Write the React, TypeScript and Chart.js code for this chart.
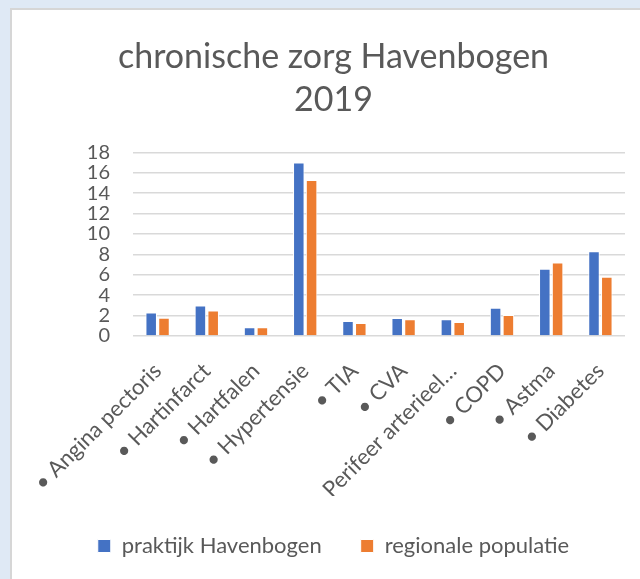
import React, { useEffect, useRef } from "react";
import { Chart, registerables } from "chart.js";

Chart.register(...registerables);

const categories = [
  "• Angina pectoris",
  "• Hartinfarct",
  "• Hartfalen",
  "• Hypertensie",
  "• TIA",
  "• CVA",
  "• Perifeer arterieel…",
  "• COPD",
  "• Astma",
  "• Diabetes",
];
const praktijk = [2.3, 3.0, 0.85, 17.0, 1.47, 1.77, 1.65, 2.78, 6.6, 8.3];
const regionaal = [1.8, 2.5, 0.85, 15.3, 1.28, 1.65, 1.38, 2.06, 7.2, 5.8];
const seriesNames = ["praktijk Havenbogen", "regionale populatie"];
const titleLines = ["chronische zorg Havenbogen", "2019"];
const yMax = 18;
const yStep = 2;

const FONT = "Lato, 'Open Sans', sans-serif";
const TXT = "#595959";

export default function App() {
  const ref = useRef<HTMLCanvasElement | null>(null);
  useEffect(() => {
    if (!ref.current) return;
    const chart = new Chart(ref.current, {
      type: "bar",
      data: {
        labels: categories,
        datasets: [
          {
            label: seriesNames[0],
            data: praktijk,
            backgroundColor: "#4472c4",
            borderColor: "#ffffff",
            borderWidth: 1,
            categoryPercentage: 0.52,
            barPercentage: 0.9,
          },
          {
            label: seriesNames[1],
            data: regionaal,
            backgroundColor: "#ed7d31",
            borderColor: "#ffffff",
            borderWidth: 1,
            categoryPercentage: 0.52,
            barPercentage: 0.9,
          },
        ],
      },
      options: {
        responsive: false,
        animation: false,
        layout: { padding: { left: 30, right: 15, top: 20, bottom: 12 } },
        plugins: {
          title: {
            display: true,
            text: titleLines,
            color: TXT,
            font: { family: FONT, size: 34, weight: "normal", lineHeight: 1.27 },
            padding: { top: 5, bottom: 31 },
          },
          legend: {
            position: "bottom",
            labels: {
              color: TXT,
              font: { family: FONT, size: 22 },
              boxWidth: 13,
              boxHeight: 13,
              padding: 39,
            },
          },
          tooltip: { enabled: false },
        },
        scales: {
          x: {
            grid: { display: false, drawTicks: false },
            border: { display: false },
            ticks: {
              color: TXT,
              font: { family: FONT, size: 22 },
              minRotation: 45,
              maxRotation: 45,
              autoSkip: false,
              padding: 22,
            },
            afterFit: (s: any) => {
              s.height = 160;
              s.paddingLeft = 0;
              s.paddingRight = 0;
            },
          },
          y: {
            min: 0,
            max: yMax,
            ticks: {
              stepSize: yStep,
              autoSkip: false,
              color: TXT,
              font: { family: FONT, size: 20 },
              padding: 23,
            },
            grid: { color: "#d9d9d9", lineWidth: 1.5, drawTicks: false },
            border: { display: false },
            afterFit: (s: any) => {
              s.width = 91;
            },
          },
        },
      },
    });
    return () => chart.destroy();
  }, []);
  return (
    <div
      style={{
        position: "fixed",
        left: 0,
        top: 0,
        width: 640,
        height: 579,
        background: "#dfe9f5",
      }}
    >
      <div
        style={{
          position: "absolute",
          left: 10,
          top: 8,
          width: 630,
          height: 571,
          background: "#ffffff",
          borderLeft: "2px solid #d6d6d6",
          borderTop: "2px solid #d6d6d6",
          boxSizing: "border-box",
        }}
      >
        <canvas ref={ref} width={628} height={569} style={{ display: "block" }} />
      </div>
    </div>
  );
}
